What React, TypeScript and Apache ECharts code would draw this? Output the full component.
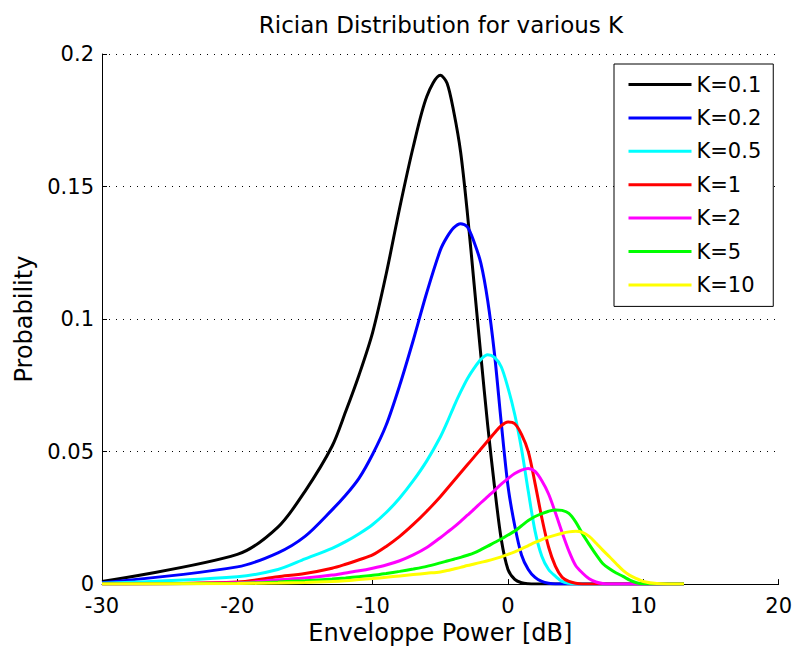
import React, { useEffect, useRef } from "react";
import * as echarts from "echarts";

// Envelope power axis (dB) sample positions
const xDb = [
  -30, -20, -17, -15, -13, -12, -11, -10, -9, -8, -7, -6, -5, -4.5, -4, -3.5, -3, -2.5, -2, -1.5,
  -1, -0.5, 0, 0.5, 1, 1.5, 2, 2.5, 3, 3.5, 4, 4.5, 5, 5.5, 6, 6.5, 7, 7.5, 8, 8.5, 9, 9.5, 10, 11, 13,
];

const kLabels = ["K=0.1", "K=0.2", "K=0.5", "K=1", "K=2", "K=5", "K=10"];

const pK01 = [
  0.001, 0.0112, 0.0215, 0.035, 0.052, 0.065, 0.079, 0.095, 0.117, 0.142, 0.165, 0.184, 0.192, 0.189, 0.178,
  0.163, 0.14, 0.113, 0.086, 0.06, 0.037, 0.017, 0.0055, 0.0018, 0.0005, 0.0001, 0, 0, 0, 0, 0, 0, 0, 0, 0,
  0, 0, 0, 0, 0, 0, 0, 0, 0, 0,
];
const pK02 = [
  0.0005, 0.0065, 0.0118, 0.018, 0.028, 0.0335, 0.04, 0.049, 0.06, 0.075, 0.092, 0.11, 0.126, 0.131, 0.1345,
  0.136, 0.1348, 0.129, 0.121, 0.107, 0.087, 0.061, 0.037, 0.022, 0.011, 0.0055, 0.0025, 0.001, 0.0003, 0, 0,
  0, 0, 0, 0, 0, 0, 0, 0, 0, 0, 0, 0, 0, 0,
];
const pK05 = [
  0.0003, 0.0028, 0.0055, 0.0095, 0.0135, 0.016, 0.019, 0.0225, 0.027, 0.0325, 0.039, 0.0465, 0.0555, 0.061,
  0.067, 0.0725, 0.0775, 0.0815, 0.0848, 0.0865, 0.0855, 0.082, 0.074, 0.064, 0.051, 0.035, 0.02, 0.0105,
  0.0055, 0.003, 0.001, 0.0003, 0, 0, 0, 0, 0, 0, 0, 0, 0, 0, 0, 0, 0,
];
const pK1 = [
  0, 0.0008, 0.0028, 0.004, 0.006, 0.0075, 0.0092, 0.011, 0.0142, 0.018, 0.0225, 0.0275, 0.033, 0.036, 0.039,
  0.042, 0.045, 0.048, 0.051, 0.054, 0.057, 0.0598, 0.0612, 0.0605, 0.0565, 0.05, 0.038, 0.025, 0.014, 0.0068,
  0.0026, 0.001, 0.0003, 0, 0, 0, 0, 0, 0, 0, 0, 0, 0, 0, 0,
];
const pK2 = [
  0, 0.0005, 0.0016, 0.0023, 0.0034, 0.0042, 0.005, 0.006, 0.0072, 0.0088, 0.011, 0.0138, 0.0175, 0.0195, 0.0215,
  0.0237, 0.026, 0.0283, 0.0307, 0.033, 0.0353, 0.0377, 0.0398, 0.0417, 0.043, 0.0436, 0.0425, 0.039, 0.034,
  0.027, 0.0195, 0.0125, 0.007, 0.0042, 0.002, 0.0008, 0.0002, 0, 0, 0, 0, 0, 0, 0, 0,
];
const pK5 = [
  0, 0.0003, 0.0008, 0.0013, 0.0019, 0.0023, 0.0028, 0.0033, 0.004, 0.0048, 0.0057, 0.0067, 0.008, 0.0087, 0.0094,
  0.0101, 0.0109, 0.0118, 0.013, 0.0143, 0.0157, 0.017, 0.0185, 0.02, 0.022, 0.024, 0.0255, 0.0266, 0.0275,
  0.028, 0.0278, 0.0267, 0.0235, 0.019, 0.015, 0.0112, 0.0078, 0.0058, 0.0042, 0.0029, 0.0015, 0.0005, 0.0001,
  0, 0,
];
const pK10 = [
  0, 0.0002, 0.0004, 0.0006, 0.001, 0.0013, 0.0017, 0.0021, 0.0026, 0.0031, 0.0036, 0.0041, 0.0046, 0.0051, 0.0057,
  0.0063, 0.007, 0.0076, 0.0082, 0.0088, 0.0095, 0.0103, 0.0112, 0.0122, 0.0133, 0.0145, 0.0157, 0.0168, 0.0177,
  0.0185, 0.0192, 0.0197, 0.0199, 0.0195, 0.018, 0.0155, 0.0128, 0.0103, 0.0077, 0.0052, 0.0033, 0.0021, 0.001,
  0.0002, 0,
];

const seriesValues = [pK01, pK02, pK05, pK1, pK2, pK5, pK10];

const xTicks = { min: -30, max: 20, interval: 10 };
const yTicks = { min: 0, max: 0.2, interval: 0.05 };

export default function App() {
  const ref = useRef<HTMLDivElement>(null);

  useEffect(() => {
    const el = ref.current;
    if (!el) return;
    const chart = echarts.init(el, null, { renderer: "svg" });
    const font = "DejaVu Sans";
    const colors = ["#000000", "#0000ff", "#00ffff", "#ff0000", "#ff00ff", "#00ff00", "#ffff00"];

    const option: any = {
      animation: false,
      backgroundColor: "#ffffff",
      title: {
        text: "Rician Distribution for various K",
        left: 436,
        top: 8,
        textAlign: "center",
        textStyle: { fontFamily: font, fontSize: 23, fontWeight: "normal", color: "#000" },
      },
      grid: { left: 102, right: 15, top: 54, bottom: 62, containLabel: false },
      legend: {
        orient: "vertical",
        left: 614,
        top: 64,
        itemWidth: 63,
        itemHeight: 22,
        itemGap: 12.4,
        padding: [10, 12, 11, 13],
        backgroundColor: "#ffffff",
        borderColor: "#000000",
        borderWidth: 1,
        borderRadius: 0,
        selectedMode: false,
        itemStyle: { opacity: 0 },
        lineStyle: { width: 3 },
        textStyle: { fontFamily: font, fontSize: 21, color: "#000" },
        data: kLabels,
      },
      xAxis: {
        type: "value",
        min: xTicks.min,
        max: xTicks.max,
        interval: xTicks.interval,
        name: "Enveloppe Power [dB]",
        nameLocation: "middle",
        nameGap: 31,
        nameTextStyle: { fontFamily: font, fontSize: 24, color: "#000" },
        axisLine: { show: true, onZero: false, lineStyle: { color: "#000", width: 1 } },
        axisTick: { show: true, inside: true, length: 5, lineStyle: { color: "#000" } },
        axisLabel: { fontFamily: font, fontSize: 21, color: "#000", margin: 11 },
        splitLine: { show: false },
      },
      yAxis: {
        type: "value",
        min: yTicks.min,
        max: yTicks.max,
        interval: yTicks.interval,
        name: "Probability",
        nameLocation: "middle",
        nameGap: 64,
        nameTextStyle: { fontFamily: font, fontSize: 24, color: "#000" },
        axisLine: { show: true, onZero: false, lineStyle: { color: "#000", width: 1 } },
        axisTick: { show: true, inside: true, length: 5, lineStyle: { color: "#000" } },
        axisLabel: { fontFamily: font, fontSize: 21, color: "#000", margin: 8 },
        splitLine: { show: true, lineStyle: { color: "#000", width: 1, type: [1, 6] } },
      },
      series: seriesValues.map((vals, i) => ({
        name: kLabels[i],
        type: "line",
        data: xDb.map((x, j) => [x, vals[j]]),
        showSymbol: false,
        symbol: "none",
        smooth: 0.3,
        lineStyle: { color: colors[i], width: 3 },
        itemStyle: { color: colors[i] },
        emphasis: { disabled: true },
      })),
    };

    chart.setOption(option);
    return () => chart.dispose();
  }, []);

  return (
    <div
      ref={ref}
      style={{ position: "fixed", left: 0, top: 0, width: 795, height: 650, background: "#fff" }}
    />
  );
}
